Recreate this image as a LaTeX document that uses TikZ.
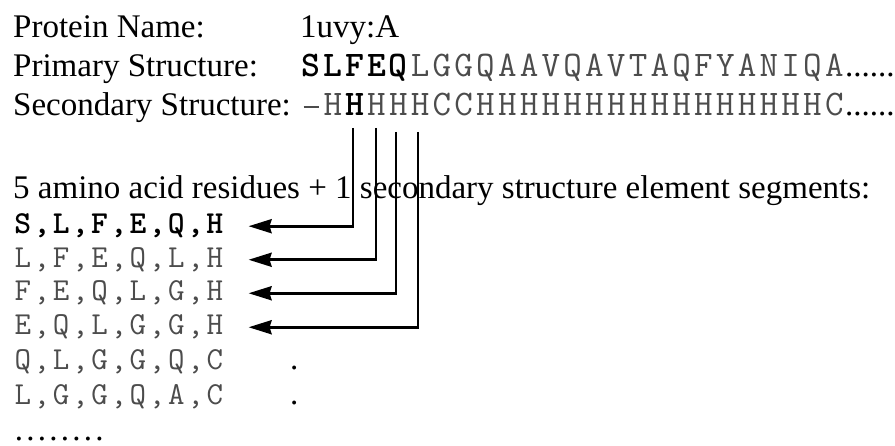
\documentclass[tikz,border=0pt]{standalone}
\usepackage{fontspec}
\setmainfont{Liberation Serif}
\usetikzlibrary{arrows.meta}

% fixed pitch for the typewriter sequences
\def\seqpitch{21.8pt}
\def\tuppitch{19.2pt}
\def\gap{\rule[8pt]{15pt}{1.6pt}}
\newcommand\spaced[2]{\def\curpitch{#1}\spacedloop#2\relax}
\def\spacedloop#1{\ifx\relax#1\else\makebox[\curpitch]{#1}\expandafter\spacedloop\fi}

\begin{document}
\begin{tikzpicture}[x=1pt,y=-1pt,
  lab/.style={anchor=base west,inner sep=0pt,font=\fontsize{33}{40}\selectfont},
  seq/.style={anchor=base west,inner sep=0pt,text=black!70,font=\fontsize{36}{40}\selectfont\ttfamily},
  tup/.style={anchor=base west,inner sep=0pt,text=black!70,font=\fontsize{32}{36}\selectfont\ttfamily},
  link/.style={line width=2.8pt,-{Stealth[length=23pt,width=14pt,inset=2pt]}}]
\useasboundingbox (0,0) rectangle (895,446);

% header
\node[lab] (name) at (13,38) {Protein Name:};
\node[lab] (pid) at (300,38) {1uvy:A};
\node[lab] (prim) at (13,77) {Primary Structure:};
\node[seq] (pseq) at (300,77) {{\bfseries\color{black}\spaced{\seqpitch}{SLFEQ}}\spaced{\seqpitch}{LGGQAAVQAVTAQFYANIQA}{\rmfamily\color{black}\fontsize{33}{40}\selectfont......}};
\node[lab] (sec) at (13,116) {Secondary Structure:};
\node[seq] (sseq) at (300,116) {\spaced{\seqpitch}{\gap H}{\bfseries\color{black}\spaced{\seqpitch}{H}}\spaced{\seqpitch}{HHHCCHHHHHHHHHHHHHHHHC}{\rmfamily\color{black}\fontsize{33}{40}\selectfont......}};

% windows
\node[lab] (intro) at (13,199) {5 amino acid residues + 1 secondary structure element segments:};
\node[tup,text=black] (r1) at (13,234) {\bfseries\spaced{\tuppitch}{S,L,F,E,Q,H}};
\node[tup] (r2) at (13,267.5) {\spaced{\tuppitch}{L,F,E,Q,L,H}};
\node[tup] (r3) at (13,301) {\spaced{\tuppitch}{F,E,Q,L,G,H}};
\node[tup] (r4) at (13,335) {\spaced{\tuppitch}{E,Q,L,G,G,H}};
\node[tup] (r5) at (13,370) {\spaced{\tuppitch}{Q,L,G,G,Q,C}};
\node[tup] (r6) at (13,405) {\spaced{\tuppitch}{L,G,G,Q,A,C}};
\node[lab] (d5) at (290,370) {.};
\node[lab] (d6) at (290,405) {.};
\node[lab] (more) at (13,441) {\spaced{11.5pt}{........}};

% links from the secondary structure
\coordinate (h1) at (353,128);
\coordinate (h2) at (376,128);
\coordinate (h3) at (396,132);
\coordinate (h4) at (418,132);
\draw[link] (h1) |- ([xshift=24pt]r1.east);
\draw[link] (h2) |- ([xshift=24pt]r2.east);
\draw[link] (h3) |- ([xshift=24pt]r3.east);
\draw[link] (h4) |- ([xshift=24pt]r4.east);
\end{tikzpicture}
\end{document}
